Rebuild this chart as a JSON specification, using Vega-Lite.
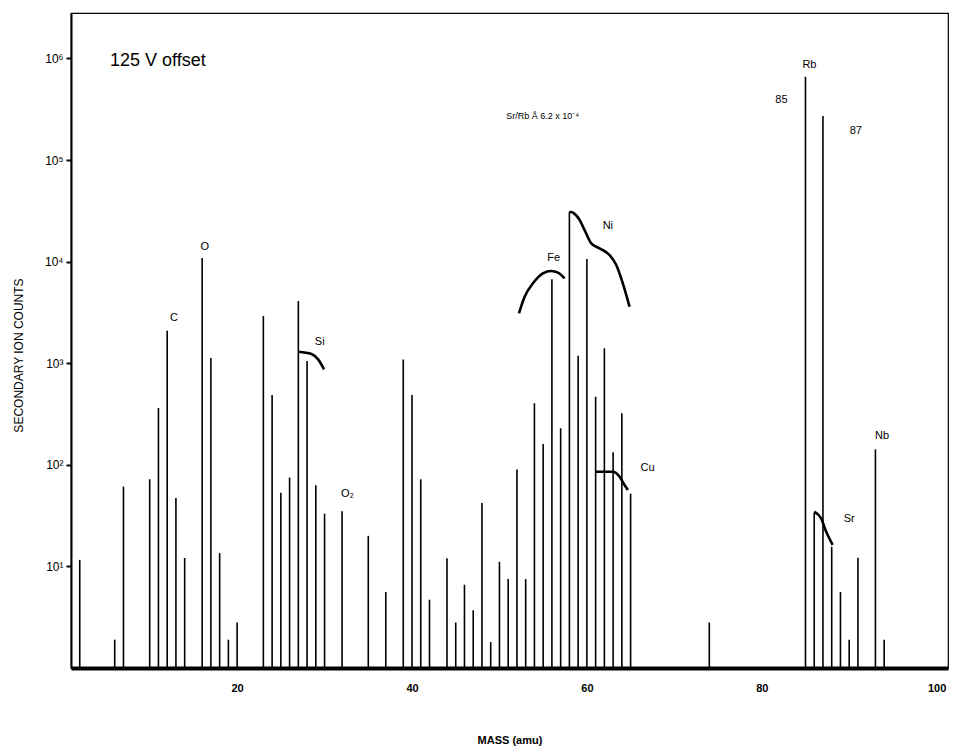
{
  "$schema": "https://vega.github.io/schema/vega-lite/v6.json",
  "width": 877,
  "height": 655,
  "autosize": {"type": "none"},
  "padding": {"left": 71, "top": 13, "right": 5, "bottom": 80},
  "background": "white",
  "config": {
    "view": {"stroke": "black", "strokeWidth": 1.2},
    "font": "Liberation Sans"
  },
  "datasets": {
    "peaks": [
      {"mass": 2, "counts": 11.6}, {"mass": 6, "counts": 1.9}, {"mass": 7, "counts": 61},
      {"mass": 10, "counts": 72}, {"mass": 11, "counts": 362}, {"mass": 12, "counts": 2090},
      {"mass": 13, "counts": 47}, {"mass": 14, "counts": 12.1}, {"mass": 16, "counts": 10840},
      {"mass": 17, "counts": 1125}, {"mass": 18, "counts": 13.5}, {"mass": 19, "counts": 1.9},
      {"mass": 20, "counts": 2.8}, {"mass": 23, "counts": 2915}, {"mass": 24, "counts": 486},
      {"mass": 25, "counts": 53}, {"mass": 26, "counts": 75}, {"mass": 27, "counts": 4090},
      {"mass": 28, "counts": 1050}, {"mass": 29, "counts": 63}, {"mass": 30, "counts": 33},
      {"mass": 32, "counts": 35}, {"mass": 35, "counts": 20}, {"mass": 37, "counts": 5.6},
      {"mass": 39, "counts": 1090}, {"mass": 40, "counts": 486}, {"mass": 41, "counts": 72},
      {"mass": 42, "counts": 4.7}, {"mass": 44, "counts": 12}, {"mass": 45, "counts": 2.8},
      {"mass": 46, "counts": 6.6}, {"mass": 47, "counts": 3.7}, {"mass": 48, "counts": 42},
      {"mass": 49, "counts": 1.8}, {"mass": 50, "counts": 11.1}, {"mass": 51, "counts": 7.5},
      {"mass": 52, "counts": 90}, {"mass": 53, "counts": 7.5}, {"mass": 54, "counts": 403},
      {"mass": 55, "counts": 160}, {"mass": 56, "counts": 6700}, {"mass": 57, "counts": 229},
      {"mass": 58, "counts": 30970}, {"mass": 59, "counts": 1186}, {"mass": 60, "counts": 10610},
      {"mass": 61, "counts": 468}, {"mass": 62, "counts": 1400}, {"mass": 63, "counts": 133},
      {"mass": 64, "counts": 321}, {"mass": 65, "counts": 52}, {"mass": 74, "counts": 2.8},
      {"mass": 85, "counts": 660700}, {"mass": 86, "counts": 33.8}, {"mass": 87, "counts": 271000},
      {"mass": 88, "counts": 15.6}, {"mass": 89, "counts": 5.6}, {"mass": 90, "counts": 1.9},
      {"mass": 91, "counts": 12.2}, {"mass": 93, "counts": 142}, {"mass": 94, "counts": 1.9}
    ],
    "curves": [
      {"element": "Si", "mass": 27, "counts": 1298}, {"element": "Si", "mass": 28.5, "counts": 1233},
      {"element": "Si", "mass": 29.26, "counts": 1092}, {"element": "Si", "mass": 29.94, "counts": 871},
      {"element": "Fe", "mass": 52.23, "counts": 3098}, {"element": "Fe", "mass": 52.88, "counts": 4515},
      {"element": "Fe", "mass": 53.83, "counts": 6115}, {"element": "Fe", "mass": 54.97, "counts": 7674},
      {"element": "Fe", "mass": 55.93, "counts": 8077}, {"element": "Fe", "mass": 56.69, "counts": 7780},
      {"element": "Fe", "mass": 57.45, "counts": 6850},
      {"element": "Ni", "mass": 58.0, "counts": 30970}, {"element": "Ni", "mass": 58.4, "counts": 30300},
      {"element": "Ni", "mass": 59.18, "counts": 25650}, {"element": "Ni", "mass": 59.74, "counts": 20450},
      {"element": "Ni", "mass": 60.5, "counts": 15130}, {"element": "Ni", "mass": 61.45, "counts": 13520},
      {"element": "Ni", "mass": 62.59, "counts": 11610}, {"element": "Ni", "mass": 63.36, "counts": 9265},
      {"element": "Ni", "mass": 64.11, "counts": 6115}, {"element": "Ni", "mass": 64.88, "counts": 3597},
      {"element": "Cu", "mass": 61, "counts": 85.5}, {"element": "Cu", "mass": 62.97, "counts": 85.5},
      {"element": "Cu", "mass": 63.74, "counts": 76.4}, {"element": "Cu", "mass": 64.31, "counts": 63.3},
      {"element": "Cu", "mass": 64.69, "counts": 56.5},
      {"element": "Sr", "mass": 86, "counts": 34.5}, {"element": "Sr", "mass": 86.79, "counts": 29.7},
      {"element": "Sr", "mass": 87.36, "counts": 22}, {"element": "Sr", "mass": 88.11, "counts": 16.3}
    ],
    "labels": [
      {"label": "C", "mass": 12.77, "counts": 2786},
      {"label": "O", "mass": 16.3, "counts": 14000},
      {"label": "Si", "mass": 29.45, "counts": 1600},
      {"label": "O₂", "mass": 32.6, "counts": 52},
      {"label": "Fe", "mass": 56.2, "counts": 10800},
      {"label": "Ni", "mass": 62.4, "counts": 22400},
      {"label": "Cu", "mass": 66.95, "counts": 93},
      {"label": "Rb", "mass": 85.45, "counts": 861000},
      {"label": "85", "mass": 82.25, "counts": 390000},
      {"label": "87", "mass": 90.75, "counts": 192800},
      {"label": "Sr", "mass": 90.0, "counts": 29},
      {"label": "Nb", "mass": 93.75, "counts": 190}
    ],
    "note": [
      {"label": "125 V offset", "mass": 5.46, "counts": 942000}
    ],
    "ratio": [
      {"label": "Sr/Rb Å 6.2 x 10⁻⁴", "mass": 54.94, "counts": 271000}
    ]
  },
  "layer": [
    {
      "data": {"name": "peaks"},
      "mark": {"type": "rule", "color": "black", "strokeWidth": 1.6},
      "encoding": {
        "x": {
          "field": "mass", "type": "quantitative",
          "scale": {"domain": [1, 101.3], "nice": false, "zero": false},
          "axis": {
            "values": [20, 40, 60, 80, 100],
            "grid": false,
            "ticks": false,
            "domainColor": "black",
            "domainWidth": 4,
            "labelFontSize": 11,
            "labelFontWeight": "bold",
            "labelColor": "black",
            "labelPadding": 14,
            "title": "MASS (amu)",
            "titleFontSize": 11,
            "titleFontWeight": "bold",
            "titleColor": "black",
            "titleBaseline": "top",
            "titleY": 66
          }
        },
        "y": {
          "field": "counts", "type": "quantitative",
          "scale": {"type": "log", "domain": [1, 2800000], "nice": false},
          "axis": {
            "values": [10, 100, 1000, 10000, 100000, 1000000],
            "labelExpr": "datum.value == 10 ? '10¹' : datum.value == 100 ? '10²' : datum.value == 1000 ? '10³' : datum.value == 10000 ? '10⁴' : datum.value == 100000 ? '10⁵' : '10⁶'",
            "grid": false,
            "domainColor": "black",
            "domainWidth": 2,
            "tickColor": "black",
            "tickWidth": 2,
            "tickSize": 5,
            "labelFontSize": 12,
            "labelColor": "black",
            "labelPadding": 3,
            "title": "SECONDARY ION COUNTS",
            "titleFontSize": 12,
            "titleFontWeight": "normal",
            "titleColor": "black",
            "titleAngle": -90,
            "titleAlign": "center",
            "titleBaseline": "middle",
            "titleX": -53,
            "titleY": 342
          }
        },
        "y2": {"datum": 1}
      }
    },
    {
      "data": {"name": "curves"},
      "mark": {"type": "line", "color": "black", "strokeWidth": 2.6, "interpolate": "monotone"},
      "encoding": {
        "x": {"field": "mass", "type": "quantitative"},
        "y": {"field": "counts", "type": "quantitative"},
        "detail": {"field": "element"}
      }
    },
    {
      "data": {"name": "labels"},
      "mark": {"type": "text", "fontSize": 11, "color": "black", "align": "center", "baseline": "middle"},
      "encoding": {
        "x": {"field": "mass", "type": "quantitative"},
        "y": {"field": "counts", "type": "quantitative"},
        "text": {"field": "label"}
      }
    },
    {
      "data": {"name": "note"},
      "mark": {"type": "text", "fontSize": 18, "color": "black", "align": "left", "baseline": "middle"},
      "encoding": {
        "x": {"field": "mass", "type": "quantitative"},
        "y": {"field": "counts", "type": "quantitative"},
        "text": {"field": "label"}
      }
    },
    {
      "data": {"name": "ratio"},
      "mark": {"type": "text", "fontSize": 9, "color": "black", "align": "center", "baseline": "middle"},
      "encoding": {
        "x": {"field": "mass", "type": "quantitative"},
        "y": {"field": "counts", "type": "quantitative"},
        "text": {"field": "label"}
      }
    }
  ]
}
